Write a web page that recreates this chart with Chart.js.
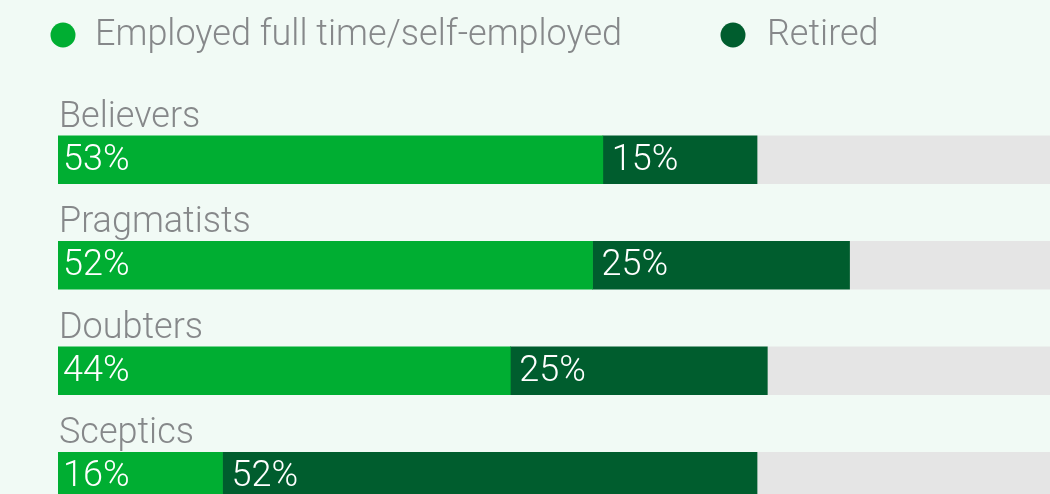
<!DOCTYPE html>
<html>
<head>
<meta charset="utf-8">
<script src="https://cdn.jsdelivr.net/npm/chart.js@4"></script>
<style>
  html, body { margin: 0; padding: 0; background: #f1faf5; overflow: hidden; }
  #wrap { position: relative; width: 1100px; height: 560px; }
</style>
</head>
<body>
<div id="wrap"><canvas id="segmentChart" width="1100" height="560"></canvas></div>
<script>
const segments = ['Believers', 'Pragmatists', 'Doubters', 'Sceptics'];
const employed = [53, 52, 44, 16];
const retired = [15, 25, 25, 52];
const seriesNames = ['Employed full time/self-employed', 'Retired'];
const seriesColors = ['#00ae32', '#005d2e'];
const restColor = '#e5e5e5';
const labelFont = '300 36px Roboto, "Liberation Sans", sans-serif';

// grey track filling each row up to 100%
const rest = segments.map((s, i) => 100 - employed[i] - retired[i]);

// draws the legend row, the segment names above the bars and the % inside them
const barLabels = {
    id: 'barLabels',
    afterDatasetsDraw(chart) {
        const ctx = chart.ctx;
        ctx.save();
        ctx.font = labelFont;

        // legend
        const legendX = [63, 733];
        const legendText = [95, 767];
        seriesNames.forEach((name, i) => {
            ctx.fillStyle = seriesColors[i];
            ctx.beginPath();
            ctx.arc(legendX[i], 35, 12.5, 0, Math.PI * 2);
            ctx.fill();
            ctx.fillStyle = '#86888a';
            ctx.textBaseline = 'middle';
            ctx.textAlign = 'left';
            ctx.fillText(name, legendText[i], 36);
        });

        // category names
        const first = chart.getDatasetMeta(0).data;
        first.forEach((bar, i) => {
            ctx.fillStyle = '#86888a';
            ctx.textBaseline = 'alphabetic';
            ctx.fillText(segments[i], chart.chartArea.left + 1, bar.y - bar.height / 2 - 9);
        });

        // values inside the coloured parts
        [0, 1].forEach(d => {
            const values = chart.data.datasets[d].data;
            chart.getDatasetMeta(d).data.forEach((bar, i) => {
                ctx.fillStyle = '#ffffff';
                ctx.textBaseline = 'middle';
                ctx.fillText(values[i] + '%', bar.base + (d ? 9 : 5), bar.y + 1);
            });
        });
        ctx.restore();
    }
};

new Chart(document.getElementById('segmentChart'), {
    type: 'bar',
    data: {
        labels: segments,
        datasets: [
            { label: seriesNames[0], data: employed, backgroundColor: seriesColors[0] },
            { label: seriesNames[1], data: retired, backgroundColor: seriesColors[1] },
            { label: 'rest', data: rest, backgroundColor: restColor }
        ]
    },
    options: {
        indexAxis: 'y',
        responsive: false,
        animation: false,
        layout: { padding: { left: 58, right: 14, top: 107, bottom: 31 } },
        datasets: {
            bar: { barThickness: 48, categoryPercentage: 1, borderWidth: 0 }
        },
        plugins: {
            legend: { display: false },
            tooltip: { enabled: false }
        },
        scales: {
            x: { stacked: true, min: 0, max: 100, display: false },
            y: { stacked: true, display: false }
        }
    },
    plugins: [barLabels]
});
</script>
</body>
</html>
